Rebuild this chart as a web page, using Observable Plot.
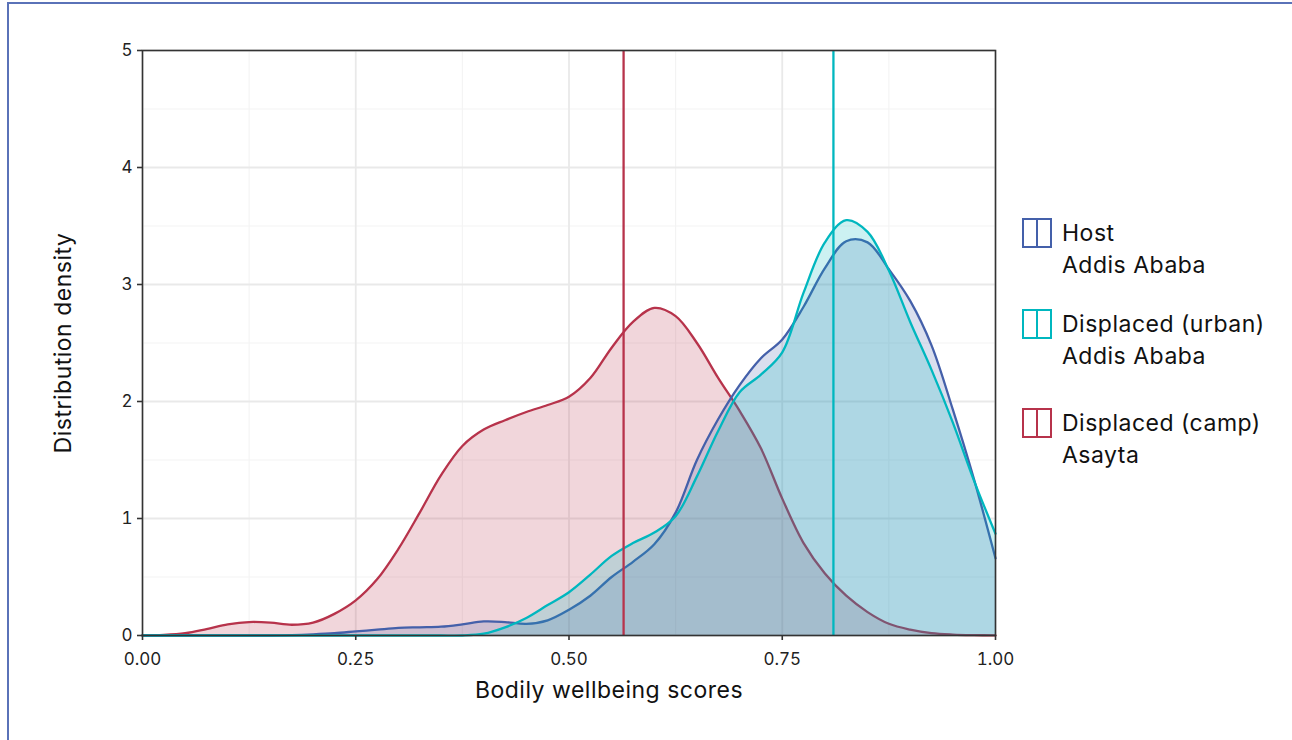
<!DOCTYPE html>
<html>
<head>
<meta charset="utf-8">
<script src="https://cdn.jsdelivr.net/npm/d3@7"></script>
<script src="https://cdn.jsdelivr.net/npm/@observablehq/plot@0.6"></script>
<style>
  body { margin: 0; background: #fff; font-family: Inter, "Liberation Sans", sans-serif; }
  #page { position: relative; width: 1292px; height: 740px; overflow: hidden; background: #fff; }
  #border { position: absolute; left: 7px; top: 2px; width: 1400px; height: 900px;
            border-left: 2.5px solid #5a72b8; border-top: 2.5px solid #5a72b8; }
  #chart { position: absolute; left: 0; top: 0; }
  #legend { position: absolute; left: 1022px; top: 217px; }
  .entry { display: flex; align-items: flex-start; }
  .entry:nth-child(1) { margin-bottom: 27px; }
  .entry:nth-child(2) { margin-bottom: 35px; }
  .swatch { position: relative; width: 26px; height: 26px; border: 2px solid; margin-top: 1px; margin-right: 10px; background: #fff; }
  .swatch .mid { position: absolute; left: 12px; top: 0; width: 2px; height: 26px; }
  .label { font-size: 23px; letter-spacing: 0.5px; line-height: 32px; color: #111; white-space: nowrap; }
</style>
</head>
<body>
<div id="page">
  <div id="border"></div>
  <div id="chart"></div>
  <div id="legend"></div>
</div>
<script>
// ---- data ----
const groups = ["Displaced (camp)", "Host", "Displaced (urban)"];
const groupSub = ["Asayta", "Addis Ababa", "Addis Ababa"];
const groupColors = ["#b7334b", "#4460aa", "#00b7bf"];
const legendOrder = ["Host", "Displaced (urban)", "Displaced (camp)"];

const scoreGrid = [0.000, 0.025, 0.050, 0.075, 0.100, 0.125, 0.150, 0.175, 0.200, 0.225,
                   0.250, 0.275, 0.300, 0.325, 0.350, 0.375, 0.400, 0.425, 0.450, 0.475,
                   0.500, 0.525, 0.550, 0.575, 0.600, 0.625, 0.650, 0.675, 0.700, 0.725,
                   0.750, 0.775, 0.800, 0.825, 0.850, 0.875, 0.900, 0.925, 0.950, 0.975, 1.000];

const densityCamp = [0.000, 0.005, 0.020, 0.055, 0.095, 0.115, 0.110, 0.092, 0.110, 0.185,
                     0.300, 0.480, 0.740, 1.050, 1.370, 1.620, 1.760, 1.840, 1.910, 1.970,
                     2.040, 2.200, 2.460, 2.680, 2.800, 2.730, 2.500, 2.200, 1.920, 1.600,
                     1.170, 0.790, 0.530, 0.340, 0.200, 0.100, 0.050, 0.020, 0.008, 0.003, 0.001];

const densityHost = [0.000, 0.000, 0.000, 0.000, 0.000, 0.000, 0.000, 0.003, 0.010, 0.020,
                     0.035, 0.050, 0.065, 0.070, 0.075, 0.095, 0.120, 0.115, 0.100, 0.130,
                     0.220, 0.340, 0.500, 0.630, 0.780, 1.050, 1.500, 1.850, 2.140, 2.370,
                     2.530, 2.810, 3.140, 3.370, 3.360, 3.130, 2.860, 2.480, 1.930, 1.330, 0.660];

const densityUrban = [0.000, 0.000, 0.000, 0.000, 0.000, 0.000, 0.000, 0.000, 0.000, 0.000,
                      0.000, 0.000, 0.000, 0.000, 0.000, 0.000, 0.015, 0.070, 0.150, 0.260,
                      0.370, 0.520, 0.680, 0.790, 0.880, 1.020, 1.360, 1.750, 2.080, 2.230,
                      2.420, 2.930, 3.360, 3.550, 3.450, 3.120, 2.680, 2.270, 1.820, 1.320, 0.870];

const meanGroups = ["Displaced (camp)", "Displaced (urban)"];
const meanValues = [0.564, 0.810];

const xMajor = [0, 0.25, 0.5, 0.75, 1];
const xMinor = [0.125, 0.375, 0.625, 0.875];
const yMajor = [0, 1, 2, 3, 4, 5];
const yMinor = [0.5, 1.5, 2.5, 3.5, 4.5];
const xTickLabels = ["0.00", "0.25", "0.50", "0.75", "1.00"];
const yTickLabels = ["0", "1", "2", "3", "4", "5"];
const xTitle = "Bodily wellbeing scores";
const yTitle = "Distribution density";

// ---- build table ----
const seriesByGroup = {
  "Displaced (camp)": densityCamp,
  "Host": densityHost,
  "Displaced (urban)": densityUrban
};
const colorOf = Object.fromEntries(groups.map((g, i) => [g, groupColors[i]]));
const subOf = Object.fromEntries(groups.map((g, i) => [g, groupSub[i]]));
const rows = groups.flatMap(g => scoreGrid.map((x, i) => ({x, density: seriesByGroup[g][i], group: g})));
const means = meanGroups.map((g, i) => ({group: g, mean: meanValues[i]}));

const curveMarks = groups.flatMap(g => {
  const d = rows.filter(r => r.group === g);
  return [
    Plot.areaY(d, {x: "x", y: "density", fill: colorOf[g], fillOpacity: 0.2, curve: "catmull-rom"}),
    Plot.lineY(d, {x: "x", y: "density", stroke: colorOf[g], strokeWidth: 2.3, curve: "catmull-rom"})
  ];
});

const chart = Plot.plot({
  width: 1010,
  height: 740,
  marginLeft: 142,
  marginRight: 15,
  marginTop: 50,
  marginBottom: 105,
  style: {fontFamily: "Inter, 'Liberation Sans', sans-serif", background: "transparent", overflow: "visible"},
  x: {domain: [0, 1]},
  y: {domain: [0, 5]},
  marks: [
    Plot.gridX(xMinor, {stroke: "#f3f3f3", strokeOpacity: 1, strokeWidth: 1.1}),
    Plot.gridY(yMinor, {stroke: "#f3f3f3", strokeOpacity: 1, strokeWidth: 1.1}),
    Plot.gridX(xMajor, {stroke: "#e9e9e9", strokeOpacity: 1, strokeWidth: 1.8}),
    Plot.gridY(yMajor, {stroke: "#e9e9e9", strokeOpacity: 1, strokeWidth: 1.8}),
    ...curveMarks,
    Plot.ruleX(means, {x: "mean", stroke: d => colorOf[d.group], strokeWidth: 2.3}),
    Plot.frame({stroke: "#333", strokeWidth: 1.6}),
    Plot.axisX(xMajor, {tickFormat: d => xTickLabels[xMajor.indexOf(d)], tickSize: 5, tickPadding: 12,
      fontSize: 17, stroke: "#333", strokeWidth: 1.6, fill: "#222", label: null}),
    Plot.axisY(yMajor, {tickFormat: d => yTickLabels[yMajor.indexOf(d)], tickSize: 5, tickPadding: 5,
      fontSize: 17, stroke: "#333", strokeWidth: 1.6, fill: "#222", label: null}),
    Plot.text([xTitle], {frameAnchor: "bottom", textAnchor: "middle", lineAnchor: "top", dx: 40, dy: 46,
      fontSize: 23, fill: "#111", style: "letter-spacing:0.6px"}),
    Plot.text([yTitle], {frameAnchor: "left", textAnchor: "middle", rotate: -90, dx: -79,
      fontSize: 23, fill: "#111"})
  ]
});
chart.querySelectorAll("text").forEach(t => {
  if (t.textContent === xTitle || t.textContent === yTitle) t.style.letterSpacing = "0.5px";
});
document.getElementById("chart").appendChild(chart);

// ---- legend ----
const legend = document.getElementById("legend");
legendOrder.forEach(g => {
  const e = document.createElement("div");
  e.className = "entry";
  const c = colorOf[g];
  e.innerHTML = `<div class="swatch" style="border-color:${c}"><div class="mid" style="background:${c}"></div></div>` +
    `<div class="label">${g}<br>${subOf[g]}</div>`;
  legend.appendChild(e);
});
</script>
</body>
</html>
